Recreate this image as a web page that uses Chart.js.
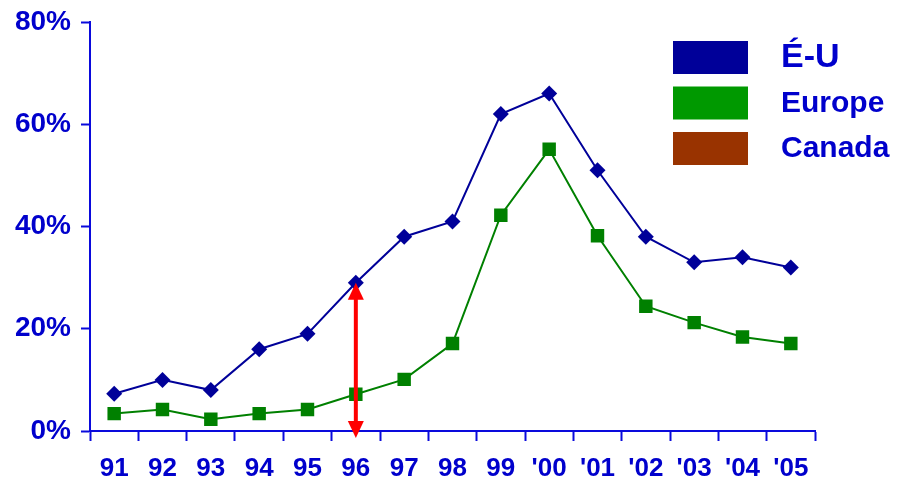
<!DOCTYPE html>
<html>
<head>
<meta charset="utf-8">
<script src="https://cdn.jsdelivr.net/npm/chart.js@4/dist/chart.umd.min.js"></script>
<style>
  html, body { margin: 0; padding: 0; background: #ffffff; }
  #wrap { width: 898px; height: 481px; position: relative; }
</style>
</head>
<body>
<div id="wrap"><canvas id="c"></canvas></div>
<script>
// Years on the horizontal axis
const years = ['91', '92', '93', '94', '95', '96', '97', '98', '99', "'00", "'01", "'02", "'03", "'04", "'05"];

// Share (%) per year
const euValues = [7.3, 10, 8, 16, 19, 29, 38, 41, 62, 66, 51, 38, 33, 34, 32];
const europeValues = [3.4, 4.2, 2.3, 3.4, 4.2, 7.2, 10.1, 17.1, 42.2, 55.1, 38.2, 24.4, 21.2, 18.4, 17.1];
const canadaValues = [];

// Value axis ticks
const yTicks = [0, 20, 40, 60, 80];

// Year marked by the red double arrow (from 0 up to the É-U value)
const arrowYear = '96';

const TEXT_BLUE = '#0000CC';
const AXIS_BLUE = '#0A0ADC';

// Legend drawn at the upper right, with coloured blocks and bold labels
const sideLegend = {
  id: 'sideLegend',
  afterDraw(chart) {
    const ctx = chart.ctx;
    const items = chart.data.datasets;
    const sizes = [34, 30, 30];
    ctx.save();
    items.forEach((ds, i) => {
      const top = 41 + i * 45.5;
      ctx.fillStyle = ds.legendColor;
      ctx.fillRect(673, top, 75, 33);
      ctx.fillStyle = TEXT_BLUE;
      ctx.font = 'bold ' + sizes[i] + 'px "Liberation Sans", Arial, sans-serif';
      ctx.textBaseline = 'middle';
      ctx.textAlign = 'left';
      ctx.fillText(ds.label, 781, top + 17);
    });
    ctx.restore();
  }
};

// Red double-headed arrow at one year
const gapArrow = {
  id: 'gapArrow',
  afterDatasetsDraw(chart) {
    const xs = chart.scales.x, ys = chart.scales.y;
    const idx = years.indexOf(arrowYear);
    const x = xs.getPixelForValue(idx);
    const yTop = ys.getPixelForValue(euValues[idx]);
    const yBot = ys.getPixelForValue(0) + 7;
    const head = 17, half = 8;
    const ctx = chart.ctx;
    ctx.save();
    ctx.strokeStyle = '#FF0000';
    ctx.fillStyle = '#FF0000';
    ctx.lineWidth = 4;
    ctx.beginPath();
    ctx.moveTo(x, yTop + head - 2);
    ctx.lineTo(x, yBot - head + 2);
    ctx.stroke();
    ctx.beginPath();
    ctx.moveTo(x, yTop);
    ctx.lineTo(x - half, yTop + head);
    ctx.lineTo(x + half, yTop + head);
    ctx.closePath();
    ctx.fill();
    ctx.beginPath();
    ctx.moveTo(x, yBot);
    ctx.lineTo(x - half, yBot - head);
    ctx.lineTo(x + half, yBot - head);
    ctx.closePath();
    ctx.fill();
    ctx.restore();
  }
};

new Chart(document.getElementById('c'), {
  type: 'line',
  data: {
    labels: years,
    datasets: [
      {
        label: 'É-U',
        data: euValues,
        borderColor: '#000099',
        backgroundColor: '#000099',
        legendColor: '#000099',
        borderWidth: 2,
        pointStyle: 'rectRot',
        pointRadius: 8,
        pointBorderWidth: 0,
        tension: 0
      },
      {
        label: 'Europe',
        data: europeValues,
        borderColor: '#008000',
        backgroundColor: '#008000',
        legendColor: '#009900',
        borderWidth: 2,
        pointStyle: 'rect',
        pointRadius: 9.5,
        pointBorderWidth: 0,
        tension: 0
      },
      {
        label: 'Canada',
        data: canadaValues,
        borderColor: '#993300',
        backgroundColor: '#993300',
        legendColor: '#993300',
        borderWidth: 2,
        pointRadius: 6
      }
    ]
  },
  options: {
    responsive: true,
    maintainAspectRatio: false,
    animation: false,
    layout: { padding: { top: 22, right: 83, left: 0, bottom: 0 } },
    plugins: {
      legend: { display: false },
      tooltip: { enabled: false }
    },
    scales: {
      x: {
        type: 'category',
        offset: true,
        grid: {
          offset: true,
          drawOnChartArea: false,
          drawTicks: true,
          tickLength: 10,
          tickWidth: 2,
          color: AXIS_BLUE
        },
        border: { display: true, color: AXIS_BLUE, width: 2 },
        ticks: {
          color: TEXT_BLUE,
          padding: 12,
          maxRotation: 0,
          autoSkip: false,
          font: { family: '"Liberation Sans", Arial, sans-serif', size: 26, weight: 'bold' }
        },
        afterFit(scale) {
          scale.height = 50;
          scale.paddingLeft = 0;
          scale.paddingRight = 0;
        }
      },
      y: {
        min: 0,
        max: 80,
        afterBuildTicks(scale) { scale.ticks = yTicks.map(v => ({ value: v })); },
        grid: {
          drawOnChartArea: false,
          drawTicks: true,
          tickLength: 9,
          tickWidth: 2,
          color: AXIS_BLUE
        },
        border: { display: true, color: AXIS_BLUE, width: 2 },
        ticks: {
          color: TEXT_BLUE,
          padding: 10,
          callback: v => v + '%',
          font: { family: '"Liberation Sans", Arial, sans-serif', size: 28, weight: 'bold' }
        },
        afterFit(scale) {
          scale.width = 90;
          scale.paddingTop = 0;
          scale.paddingBottom = 0;
        }
      }
    }
  },
  plugins: [gapArrow, sideLegend]
});
</script>
</body>
</html>
